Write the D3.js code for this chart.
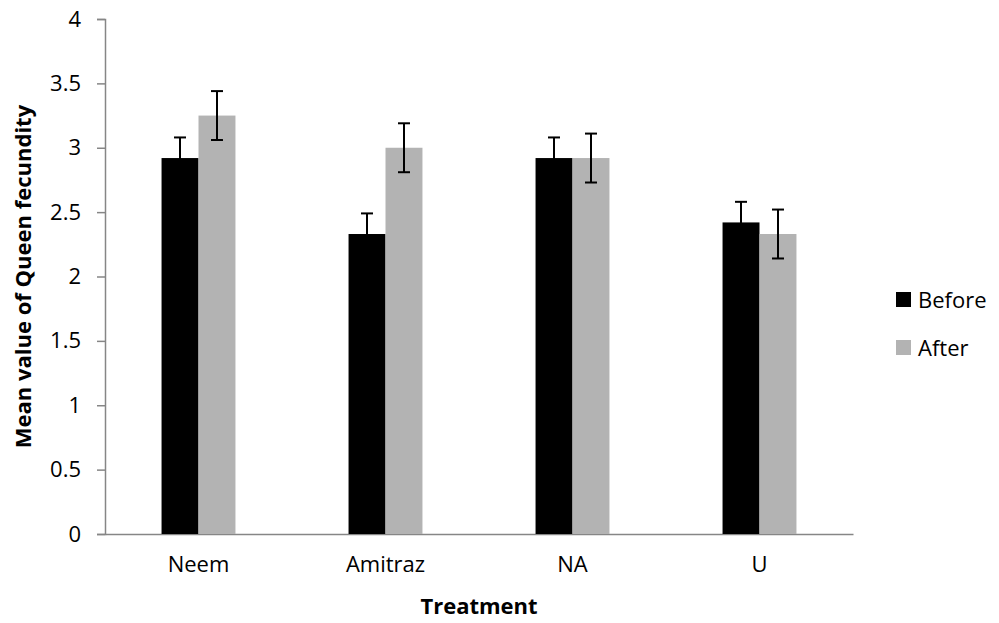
<!doctype html>
<html>
<head>
    <meta charset="utf-8">
    <script src="https://d3js.org/d3.v7.min.js"></script>
</head>
<style>
    body { margin: 0; background: #fff; }
    svg text { font-family: "Open Sans", "Noto Sans", sans-serif; fill: #000; }
</style>
<body>
<script>
    // data
    var categories = ["Neem", "Amitraz", "NA", "U"];
    var series = ["Before", "After"];
    var before = [2.92, 2.33, 2.92, 2.42];
    var after = [3.25, 3.0, 2.92, 2.33];
    var beforeErr = [0.16, 0.16, 0.16, 0.16];
    var afterErr = [0.19, 0.19, 0.19, 0.19];
    var yTicks = [0, 0.5, 1, 1.5, 2, 2.5, 3, 3.5, 4];
    var colors = ["#000000", "#b3b3b3"];

    var width = 999, height = 623;
    var plotLeft = 105, plotRight = 853, plotTop = 19, plotBottom = 534;

    var svg = d3.select("body").append("svg")
        .attr("width", width)
        .attr("height", height);

    var x0 = d3.scaleBand().domain(categories).range([plotLeft, plotRight]);
    var x1 = d3.scaleBand().domain(series).range([0, x0.bandwidth()]).paddingOuter(1.53);
    var y = d3.scaleLinear().domain([0, 4]).range([plotBottom, plotTop]);

    // y axis
    var yAxis = svg.append("g")
        .attr("transform", "translate(" + plotLeft + ",0)")
        .call(d3.axisLeft(y).tickValues(yTicks).tickSize(8).tickPadding(16).tickFormat(d3.format("")));
    yAxis.select(".domain").attr("stroke", "#868686").attr("stroke-width", 1.5);
    yAxis.selectAll(".tick line").attr("stroke", "#868686").attr("stroke-width", 1.5);
    yAxis.selectAll(".tick text").style("font-size", "22px");

    // x axis
    var xAxis = svg.append("g")
        .attr("transform", "translate(0," + plotBottom + ")")
        .call(d3.axisBottom(x0).tickSize(0).tickPadding(22));
    xAxis.select(".domain").attr("stroke", "#868686").attr("stroke-width", 1.5);
    xAxis.selectAll(".tick text").style("font-size", "22px");

    var rows = categories.map(function(c, i) {
        return [
            { cat: c, s: "Before", v: before[i], e: beforeErr[i], k: 0 },
            { cat: c, s: "After", v: after[i], e: afterErr[i], k: 1 }
        ];
    });

    var group = svg.selectAll("g.grp")
        .data(rows)
        .enter().append("g")
        .attr("class", "grp")
        .attr("transform", function(d) { return "translate(" + x0(d[0].cat) + ",0)"; });

    group.selectAll("rect")
        .data(function(d) { return d; })
        .enter().append("rect")
        .attr("x", function(d) { return x1(d.s); })
        .attr("y", function(d) { return y(d.v); })
        .attr("width", x1.bandwidth())
        .attr("height", function(d) { return y(0) - y(d.v); })
        .attr("fill", function(d) { return colors[d.k]; });

    // error bars
    var err = group.selectAll("g.err")
        .data(function(d) { return d; })
        .enter().append("g")
        .attr("class", "err")
        .attr("stroke", "#000")
        .attr("stroke-width", 2);
    err.append("line")
        .attr("x1", function(d) { return x1(d.s) + x1.bandwidth() / 2; })
        .attr("x2", function(d) { return x1(d.s) + x1.bandwidth() / 2; })
        .attr("y1", function(d) { return y(d.v + d.e); })
        .attr("y2", function(d) { return y(d.v - d.e); });
    [1, -1].forEach(function(sgn) {
        err.append("line")
            .attr("x1", function(d) { return x1(d.s) + x1.bandwidth() / 2 - 6; })
            .attr("x2", function(d) { return x1(d.s) + x1.bandwidth() / 2 + 6; })
            .attr("y1", function(d) { return y(d.v + sgn * d.e); })
            .attr("y2", function(d) { return y(d.v + sgn * d.e); });
    });

    // axis titles
    svg.append("text")
        .attr("x", (plotLeft + plotRight) / 2)
        .attr("y", 614)
        .attr("text-anchor", "middle")
        .style("font-size", "22px")
        .style("font-weight", "bold")
        .text("Treatment");

    svg.append("text")
        .attr("transform", "translate(31," + (plotTop + plotBottom) / 2 + ") rotate(-90)")
        .attr("text-anchor", "middle")
        .style("font-size", "22px")
        .style("font-weight", "bold")
        .text("Mean value of Queen fecundity");

    // legend
    var legend = svg.selectAll("g.leg")
        .data(series)
        .enter().append("g")
        .attr("class", "leg")
        .attr("transform", function(d, i) { return "translate(896," + (292 + i * 48) + ")"; });
    legend.append("rect")
        .attr("width", 15)
        .attr("height", 15)
        .attr("fill", function(d, i) { return colors[i]; });
    legend.append("text")
        .attr("x", 22)
        .attr("y", 16)
        .style("font-size", "22px")
        .text(function(d) { return d; });
</script>
</body>
</html>
